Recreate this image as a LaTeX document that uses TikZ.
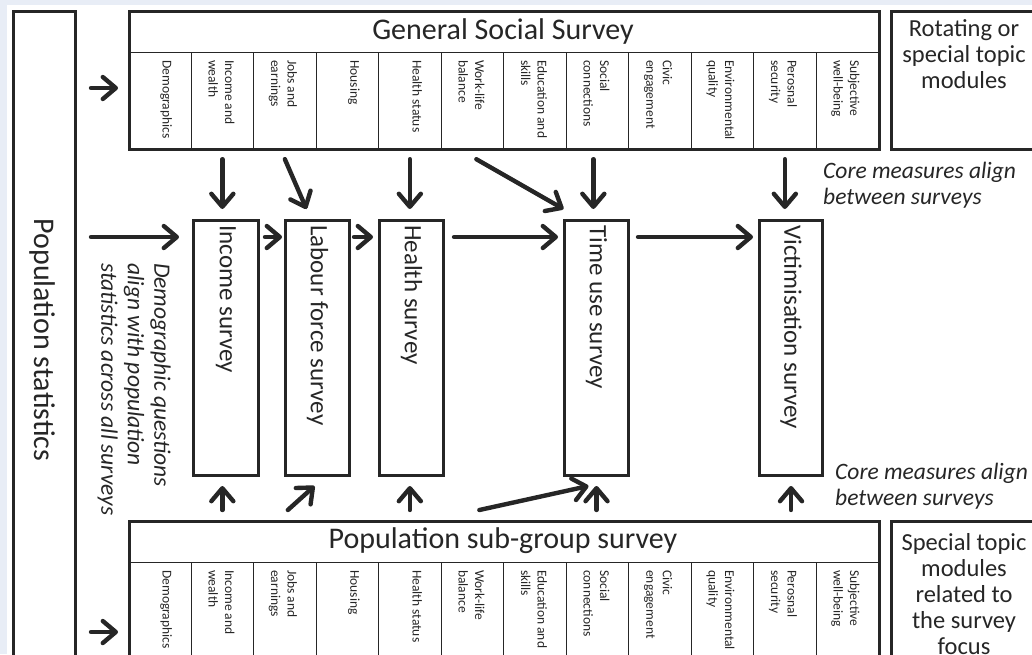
\documentclass[tikz,border=0pt]{standalone}
\usepackage{fontspec}
\setmainfont{Carlito}
\usetikzlibrary{arrows.meta}
\definecolor{ink}{RGB}{38,38,38}
\definecolor{bgblue}{RGB}{232,237,246}
\newcommand\ftitle{\fontsize{30}{36}\selectfont}
\newcommand\fsurv{\fontsize{25}{30}\selectfont}
\newcommand\fcolt{\fontsize{13.5}{16.5}\selectfont}
\newcommand\fside{\fontsize{24.5}{26}\selectfont}
\newcommand\fital{\fontsize{23.5}{26.5}\selectfont\itshape}
\begin{document}
\begin{tikzpicture}[x=1pt,y=-1pt,
  frame/.style={draw=ink, line width=3pt, inner sep=0pt, anchor=north west},
  cell/.style={draw=ink, line width=1.2pt, inner sep=0pt, anchor=north west, minimum width=62.5pt, minimum height=96pt},
  collab/.style={rotate=-90, anchor=north west, inner sep=0pt, align=left, font=\fcolt, text=ink},
  survlab/.style={rotate=-90, anchor=west, inner sep=0pt, font=\fsurv, text=ink},
  arr/.style={draw=ink, line width=4.4pt, line cap=round, -{Straight Barb[length=13pt, width=22pt, round]}},
]
\fill[bgblue] (0,0) rectangle (1032,654);
\fill[white] (7,5) rectangle (1032,654);
\useasboundingbox (0,0) rectangle (1032,654);

% column cells and labels
\foreach \i/\t in {1/Demographics,2/{Income and\\wealth},3/{Jobs and\\earnings},4/Housing,5/Health status,6/{Work-life\\balance},7/{Education and\\skills},8/{Social\\connections},9/{Civic\\engagement},10/{Environmental\\quality},11/{Perosnal\\security},12/{Subjective\\well-being}}{
  \node[cell] (g\i) at ({128+62.5*(\i-1)},52) {};
  \node[collab] (gl\i) at ({128+62.5*(\i-1)+44.25},60) {\t};
  \node[cell, minimum height=110pt] (s\i) at ({128+62.5*(\i-1)},562) {};
  \node[collab] (sl\i) at ({128+62.5*(\i-1)+44.25},570) {\t};
}

% frames
\node[frame, minimum width=62pt, minimum height=700pt] (pop) at (12,10) {};
\node[frame, minimum width=750pt, minimum height=138pt] (gss) at (128,10) {};
\node[frame, minimum width=750pt, minimum height=150pt] (sub) at (128,520) {};
\node[frame, minimum width=150pt, minimum height=138pt] (rot) at (890,10) {};
\node[frame, minimum width=150pt, minimum height=150pt] (spec) at (890,520) {};

\node[font=\ftitle, text=ink] (gsst) at (503,31) {General Social Survey};
\node[font=\ftitle, text=ink] (subt) at (503,541) {Population sub-group survey};
\node[rotate=-90, font=\ftitle, text=ink] (popl) at (42,340) {Population statistics};
\node[font=\fside, text=ink, align=center] (rotl) at (964,54) {Rotating or\\special topic\\modules};
\node[font=\fside, text=ink, align=center] (specl) at (964,594) {Special topic\\modules\\related to\\the survey\\focus};

% survey boxes
\node[frame, minimum width=65pt, minimum height=255pt] (inc) at (192,219) {};
\node[frame, minimum width=64pt, minimum height=255pt] (lab) at (284,219) {};
\node[frame, minimum width=64pt, minimum height=255pt] (hea) at (378,219) {};
\node[frame, minimum width=64pt, minimum height=255pt] (tim) at (563,219) {};
\node[frame, minimum width=63pt, minimum height=255pt] (vic) at (758,219) {};
\node[survlab] (incl) at ([yshift=-6pt]inc.north) {Income survey};
\node[survlab] (labl) at ([yshift=-6pt]lab.north) {Labour force survey};
\node[survlab] (heal) at ([yshift=-6pt]hea.north) {Health survey};
\node[survlab] (timl) at ([yshift=-6pt]tim.north) {Time use survey};
\node[survlab] (vicl) at ([yshift=-6pt]vic.north) {Victimisation survey};

% italic notes
\node[rotate=-90, anchor=north west, align=left, font=\fital, text=ink, inner sep=0pt] (demq) at (171,263) {Demographic questions\\align with population\\statistics across all surveys};
\node[anchor=west, align=left, font=\fital, text=ink, inner sep=0pt] (core1) at (823,185) {Core measures align\\between surveys};
\node[anchor=west, align=left, font=\fital, text=ink, inner sep=0pt] (core2) at (835,486) {Core measures align\\between surveys};

% row coordinates
\coordinate (toprow) at (0,88);
\coordinate (midrow) at (0,237);
\coordinate (botrow) at (0,632);

% left arrows
\draw[arr] ([xshift=14pt]pop.east |- toprow) -- ([xshift=-10pt]gss.west |- toprow);
\draw[arr] ([xshift=14pt]pop.east |- midrow) -- ([xshift=-13pt]inc.west |- midrow);
\draw[arr] ([xshift=14pt]pop.east |- botrow) -- ([xshift=-10pt]sub.west |- botrow);

% horizontal arrows between surveys
\draw[arr] ([xshift=5pt]inc.east |- midrow) -- ([xshift=-2pt]lab.west |- midrow);
\draw[arr] ([xshift=3pt]lab.east |- midrow) -- ([xshift=-5pt]hea.west |- midrow);
\draw[arr] ([xshift=9pt]hea.east |- midrow) -- ([xshift=-5pt]tim.west |- midrow);
\draw[arr] ([xshift=8pt]tim.east |- midrow) -- ([xshift=-5pt]vic.west |- midrow);

% GSS to surveys
\draw[arr] ([yshift=-10pt]g2.south) -- ([yshift=10pt]g2.south |- inc.north);
\draw[arr] ([yshift=-10pt]g3.south) -- ([xshift=-11pt,yshift=10pt]lab.north);
\draw[arr] ([yshift=-10pt]g5.south) -- ([yshift=10pt]g5.south |- hea.north);
\draw[arr] ([xshift=4pt,yshift=-10pt]g6.south) -- ([xshift=-33pt,yshift=10pt]tim.north);
\draw[arr] ([xshift=-4pt,yshift=-10pt]g8.south) -- ([xshift=-4pt,yshift=10pt]g8.south |- tim.north);
\draw[arr] ([yshift=-10pt]g11.south) -- ([yshift=10pt]g11.south |- vic.north);

% sub-group survey to surveys
\draw[arr] ([yshift=10pt]s2.north |- sub.north) -- ([yshift=-9pt]s2.north |- inc.south);
\draw[arr] ([xshift=3pt,yshift=10pt]s3.north |- sub.north) -- ([xshift=-3pt,yshift=-9pt]lab.south);
\draw[arr] ([yshift=10pt]s5.north |- sub.north) -- ([yshift=-9pt]s5.north |- hea.south);
\draw[arr] ([xshift=7pt,yshift=10pt]s6.north |- sub.north) -- ([xshift=-8pt,yshift=-9pt]tim.south);
\draw[arr] ([yshift=10pt]tim.south |- sub.north) -- ([yshift=-9pt]tim.south);
\draw[arr] ([yshift=10pt]vic.south |- sub.north) -- ([yshift=-9pt]vic.south);
\end{tikzpicture}
\end{document}
